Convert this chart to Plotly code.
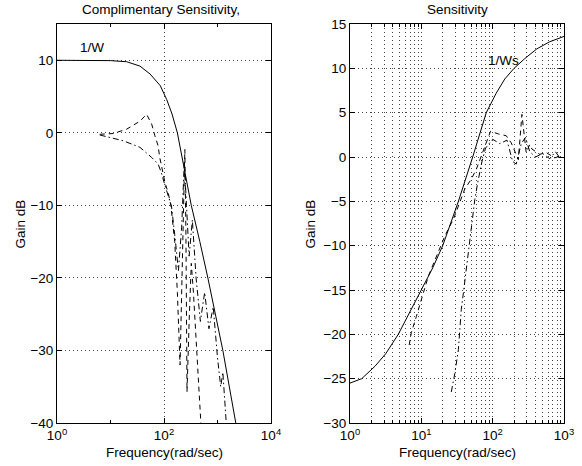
import plotly.graph_objects as go

# ---------------- data ----------------
# Left panel: Complimentary Sensitivity
t_w_inv_freq = [1, 4, 10, 20, 35.5, 55, 85.1, 112.2, 141.3, 177.8, 239.9, 323.6, 467.7, 660.7, 1258.9, 2138, 2900]
t_w_inv_db = [10.0, 10.0, 9.95, 9.8, 9.2, 8.1, 6.5, 4.6, 2.6, 0.0, -5.0, -10.0, -15.0, -20.0, -30.0, -40.0, -45.0]

t_dash_freq = [6.3, 11.2, 20, 35.5, 47.3, 58.9, 67.6, 77.6, 83.2, 91.2, 104.7, 120.2, 134.9, 158.5, 177.8,
               199.5, 218.8, 234.4, 245.5, 257, 269.2, 295, 323.6, 354.8, 416.9, 501.2, 525]
t_dash_db = [-0.2, -0.1, 0.5, 1.6, 2.55, 1.2, -0.4, -1.8, -3.4, -5.0, -6.9, -8.3, -10.1, -15, -22,
             -32, -18, -8, -2.3, -14, -35.7, -26, -18, -22, -30, -40, -44]

t_dashdot_freq = [6.3, 17.4, 35.5, 58.9, 77.6, 89.1, 104.7, 120.2, 138, 158.5, 186.2, 213.8, 239.9, 263,
                  295, 338.8, 398, 478.6, 575.4, 691.8, 831.8, 1000, 1148, 1259, 1445, 1585]
t_dashdot_db = [-0.3, -1.1, -2.0, -3.4, -4.3, -5.5, -7.3, -8.7, -10.1, -14, -19, -13, -4, -10,
                -17, -12, -20, -26, -22, -27, -24, -31, -35, -33, -40, -44]

# Right panel: Sensitivity
s_ws_inv_freq = [1, 1.46, 2.24, 3.16, 4.75, 6.92, 9.89, 14.45, 19.95, 33.1, 52.5, 81.3, 112.2, 147.9,
                 199.5, 281.8, 416.9, 631, 1000]
s_ws_inv_db = [-25.5, -25.0, -23.6, -22.2, -20.0, -17.4, -15.0, -12.5, -10.0, -5.0, 0.0, 5.0, 7.2, 8.8,
               10.0, 11.1, 12.2, 13.0, 13.6]

s_dash_freq = [6.76, 7.24, 8.51, 9.55, 10.7, 12.6, 15.5, 21.4, 28.2, 34.7, 40.7, 50.1, 58.9, 69.2, 81.3,
               93.3, 120.2, 154.9, 182, 204.2, 229.1, 257, 295.1, 331.1, 354.8, 457.1, 562.3, 741.3, 871]
s_dash_db = [-21.2, -19.8, -18.0, -16.5, -15.3, -13.4, -11.6, -8.9, -7.0, -5.2, -3.6, -2.5, -1.4, 0.1, 1.6,
             2.9, 2.6, 2.4, 1.6, 0.7, -0.3, 4.8, 0.5, 1.4, 0.9, 0.3, 0.5, -0.1, 0.1]

s_dashdot_freq = [26.3, 29.5, 33.1, 36.3, 38.9, 42.7, 49, 56.2, 61.7, 70.8, 79.4, 100, 125.9, 158.5, 190.5,
                  213.8, 251.2, 288.4, 331.1, 398.1, 501.2, 631, 758.6, 891.3]
s_dashdot_db = [-26.5, -24.4, -21.7, -17.2, -15.3, -12.7, -9.3, -4.8, -2.9, -0.5, 1.0, 2.0, 1.5, 1.9, -0.5,
                -0.8, 1.5, 2.2, 0.6, 0.0, 0.4, -0.2, 0.6, -0.2]

left_yticks = [-40, -30, -20, -10, 0, 10]
right_yticks = [-30, -25, -20, -15, -10, -5, 0, 5, 10, 15]

# ---------------- figure ----------------
W, H = 582, 466
FONT = "Liberation Sans, Arial, Helvetica, sans-serif"
FS = 13.5
DASH = "5px,4px"
DASHDOT = "6px,3px,1.5px,3px"
GRIDDASH = "1px,3px"

fig = go.Figure()

def line(x, y, dash, xa, ya):
    fig.add_trace(go.Scatter(x=x, y=y, mode="lines", xaxis=xa, yaxis=ya,
                             line=dict(color="black", width=1, dash=dash),
                             showlegend=False, hoverinfo="skip"))

line(t_w_inv_freq, t_w_inv_db, "solid", "x", "y")
line(t_dash_freq, t_dash_db, DASH, "x", "y")
line(t_dashdot_freq, t_dashdot_db, DASHDOT, "x", "y")
line(s_ws_inv_freq, s_ws_inv_db, "solid", "x2", "y2")
line(s_dash_freq, s_dash_db, DASH, "x2", "y2")
line(s_dashdot_freq, s_dashdot_db, DASHDOT, "x2", "y2")

ydom = [43 / H, 442 / H]
common = dict(showline=True, linecolor="black", linewidth=1, mirror="ticks", automargin=False,
              ticks="inside", ticklen=5, tickcolor="black",
              showgrid=True, gridcolor="#444", gridwidth=1, griddash=GRIDDASH,
              zeroline=False, tickfont=dict(family=FONT, size=FS, color="black"))

def sup(e):
    return "10<sup>%d</sup>" % e

minus = lambda v: ("\u2212%d" % -v) if v < 0 else "%d" % v

fig.update_layout(
    width=W, height=H, margin=dict(l=0, r=0, t=0, b=0, autoexpand=False),
    paper_bgcolor="white", plot_bgcolor="white",
    font=dict(family=FONT, size=FS, color="black"),
    xaxis=dict(common, type="log", domain=[57 / W, 271 / W], range=[0, 4], anchor="y",
               tickmode="array", tickvals=[1, 100, 10000], ticktext=[sup(0), sup(2), sup(4)],
               minor=dict(tickmode="array", tickvals=[10, 1000], ticks="inside", ticklen=3,
                          tickcolor="black", showgrid=False)),
    yaxis=dict(common, domain=ydom, range=[-40, 15], anchor="x",
               tickmode="array", tickvals=left_yticks, ticktext=[minus(v) for v in left_yticks]),
    xaxis2=dict(common, type="log", domain=[350 / W, 564 / W], range=[0, 3], anchor="y2",
                tickmode="array", tickvals=[1, 10, 100, 1000], ticktext=[sup(0), sup(1), sup(2), sup(3)],
                minor=dict(tickmode="array",
                           tickvals=[m * d for d in (1, 10, 100) for m in range(2, 10)],
                           ticks="inside", ticklen=3, tickcolor="black",
                           showgrid=True, gridcolor="#444", gridwidth=1, griddash=GRIDDASH)),
    yaxis2=dict(common, domain=ydom, range=[-30, 15], anchor="x2",
                tickmode="array", tickvals=right_yticks, ticktext=[minus(v) for v in right_yticks]),
)

ann = [
    dict(text="Complimentary Sensitivity,", x=161 / W, y=1 - 10 / H),
    dict(text="Sensitivity", x=457 / W, y=1 - 10 / H),
    dict(text="Frequency(rad/sec)", x=164 / W, y=1 - 452 / H),
    dict(text="Frequency(rad/sec)", x=457 / W, y=1 - 452 / H),
    dict(text="Gain dB", x=20.5 / W, y=1 - 224 / H, textangle=-90),
    dict(text="Gain dB", x=310.5 / W, y=1 - 224 / H, textangle=-90),
]
for a in ann:
    fig.add_annotation(xref="paper", yref="paper", showarrow=False,
                       xanchor="center", yanchor="middle",
                       font=dict(family=FONT, size=FS, color="black"), **a)

fig.add_annotation(xref="x", yref="y", x=0.654, y=11.8, text="1/W", showarrow=False,
                   xanchor="center", yanchor="middle", font=dict(family=FONT, size=FS, color="black"))
fig.add_annotation(xref="x2", yref="y2", x=2.147, y=10.85, text="1/Ws", showarrow=False,
                   xanchor="center", yanchor="middle", font=dict(family=FONT, size=FS, color="black"))

fig.write_html("out.html", config={"displayModeBar": False},
               post_script="document.body.style.margin='0';document.body.style.padding='0';")
